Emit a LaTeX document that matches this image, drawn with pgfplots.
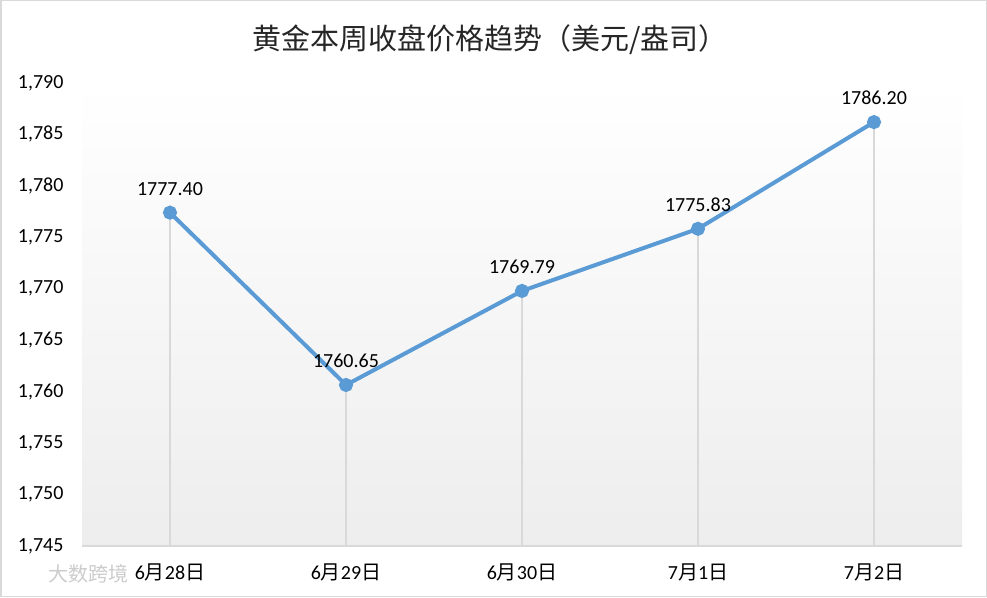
\documentclass[border=0pt]{standalone}
\usepackage{pgfplots}
\pgfplotsset{compat=1.18}
\usepackage{pgfplotstable}
\usepackage{fontspec}
\setmainfont{Carlito}
\newfontfamily\cjk{Noto Sans CJK SC}
\newcommand\zh[1]{{\cjk #1}}
\definecolor{lineblue}{HTML}{5B9BD5}
\definecolor{droplgray}{HTML}{D9D9D9}
\definecolor{bordergray}{HTML}{D9D9D9}
\pgfplotstableread{
x y lab
0 1777.40 1777.40
1 1760.65 1760.65
2 1769.79 1769.79
3 1775.83 1775.83
4 1786.20 1786.20
}\gold
\begin{document}
\begin{tikzpicture}[x=1pt,y=1pt]
\useasboundingbox (0,0) rectangle (987,597);
\fill[white] (0,0) rectangle (987,597);
\begin{axis}[
  at={(82pt,51pt)}, anchor=south west,
  scale only axis, width=880pt, height=463pt,
  xmin=-0.5, xmax=4.5, ymin=1745, ymax=1790,
  axis x line*=bottom, axis y line*=left,
  x axis line style={draw=droplgray, line width=1.2pt, -},
  y axis line style={draw=none},
  major tick length=0pt,
  axis background/.style={top color=white, bottom color=black!7},
  xtick={0,1,2,3,4},
  xticklabels={6\zh{月}28\zh{日},6\zh{月}29\zh{日},6\zh{月}30\zh{日},7\zh{月}1\zh{日},7\zh{月}2\zh{日}},
  ytick={1745,1750,...,1790},
  /pgf/number format/1000 sep={,},
  /pgf/number format/assume math mode=true,
  tick label style={font=\fontsize{20}{23}\selectfont, text=black},
  yticklabel style={xshift=-15pt},
  xticklabel style={yshift=-14pt},
  clip=false,
]
\addplot[draw=none, mark=none, forget plot,
  error bars/.cd, y dir=minus, y explicit, error mark=none,
  error bar style={draw=droplgray, line width=1.2pt}]
  table[x=x, y=y, y error expr=\thisrow{y}-1745] {\gold};
\addplot[lineblue, line width=4pt, mark=*, mark size=5pt,
  mark options={fill=lineblue, draw=none, solid},
  point meta=explicit symbolic,
  nodes near coords,
  nodes near coords style={font=\fontsize{20}{23}\selectfont, text=black, anchor=center, yshift=24pt}]
  table[x=x, y=y, meta=lab] {\gold};
\end{axis}
\node[font=\cjk\fontsize{29}{33}\selectfont, text=black!85] at (490,557) {黄金本周收盘价格趋势（美元/盎司）};
\node[font=\cjk\fontsize{20}{23}\selectfont, text=black!20] at (88,23) {大数跨境};
\draw[bordergray, line width=1.5pt] (0.75,0.75) rectangle (986.25,596.25);
\end{tikzpicture}
\end{document}
